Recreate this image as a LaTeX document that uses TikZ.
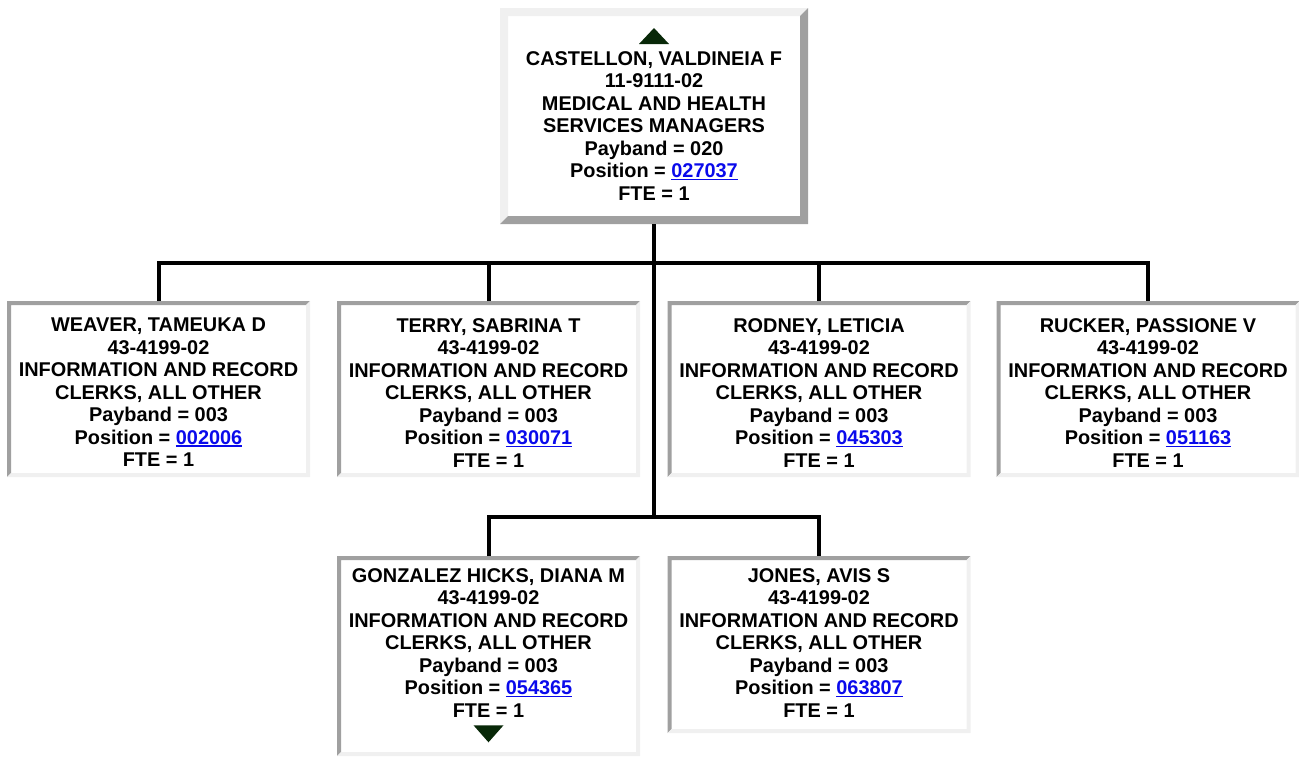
\documentclass[tikz,border=0pt]{standalone}
\usepackage{fontspec}
\setmainfont{Liberation Sans}
\usepackage{xcolor}
\usetikzlibrary{positioning}

\definecolor{framedark}{RGB}{160,160,160}
\definecolor{framelight}{RGB}{240,240,240}
\definecolor{linkblue}{RGB}{10,10,235}
\definecolor{navgreen}{RGB}{8,40,8}

% underlined position number
\newcommand\poslink[1]{{\color{linkblue}\setbox0\hbox{#1}\rlap{\rule[-2.6pt]{\wd0}{1.6pt}}\box0}}
% beveled border: node, width, top/left colour, bottom/right colour
\newcommand\bevelframe[4]{%
    \fill[#3] (#1.south west) -- (#1.north west) -- (#1.north east)
        -- ([shift={(-#2,#2)}]#1.north east) -- ([shift={(#2,#2)}]#1.north west)
        -- ([shift={(#2,-#2)}]#1.south west) -- cycle;
    \fill[#4] (#1.south west) -- (#1.south east) -- (#1.north east)
        -- ([shift={(-#2,#2)}]#1.north east) -- ([shift={(-#2,-#2)}]#1.south east)
        -- ([shift={(#2,-#2)}]#1.south west) -- cycle;}

\tikzset{
    orgbox/.style={inner sep=0pt, outer sep=0pt, minimum width=303pt, minimum height=176pt},
    persontext/.style={inner sep=0pt, align=center, font=\fontsize{19.9}{22.5}\selectfont\bfseries},
    orgline/.style={line width=4pt, line join=miter},
}

\begin{document}
\begin{tikzpicture}[x=1pt, y=-1pt]
    \useasboundingbox (0,0) rectangle (1299,761);

    % boxes
    \node[orgbox, minimum width=308pt, minimum height=216pt] (castellon) at (654,116) {};
    \node[orgbox] (weaver) at (158.5,389) {};
    \node[orgbox] (terry) at (488.5,389) {};
    \node[orgbox] (rodney) at (819,389) {};
    \node[orgbox] (rucker) at (1148,389) {};
    \node[orgbox, minimum height=200pt] (gonzalez) at (488.5,656) {};
    \node[orgbox, minimum height=177pt] (jones) at (819,644.5) {};

    \bevelframe{castellon}{8}{framelight}{framedark}
    \foreach \n in {weaver,terry,rodney,rucker,gonzalez,jones} {
        \bevelframe{\n}{4}{framedark}{framelight}
    }

    % texts
    \node[persontext, below=43pt of castellon.north] (castellon-txt)
        {CASTELLON, VALDINEIA F\\11-9111-02\\MEDICAL AND HEALTH\\SERVICES MANAGERS\\Payband = 020\\Position = \poslink{027037}\\FTE = 1};
    \node[persontext, below=17pt of weaver.north] (weaver-txt)
        {WEAVER, TAMEUKA D\\43-4199-02\\INFORMATION AND RECORD\\CLERKS, ALL OTHER\\Payband = 003\\Position = \poslink{002006}\\FTE = 1};
    \node[persontext, below=17pt of terry.north] (terry-txt)
        {TERRY, SABRINA T\\43-4199-02\\INFORMATION AND RECORD\\CLERKS, ALL OTHER\\Payband = 003\\Position = \poslink{030071}\\FTE = 1};
    \node[persontext, below=17pt of rodney.north] (rodney-txt)
        {RODNEY, LETICIA\\43-4199-02\\INFORMATION AND RECORD\\CLERKS, ALL OTHER\\Payband = 003\\Position = \poslink{045303}\\FTE = 1};
    \node[persontext, below=17pt of rucker.north] (rucker-txt)
        {RUCKER, PASSIONE V\\43-4199-02\\INFORMATION AND RECORD\\CLERKS, ALL OTHER\\Payband = 003\\Position = \poslink{051163}\\FTE = 1};
    \node[persontext, below=12pt of gonzalez.north] (gonzalez-txt)
        {GONZALEZ HICKS, DIANA M\\43-4199-02\\INFORMATION AND RECORD\\CLERKS, ALL OTHER\\Payband = 003\\Position = \poslink{054365}\\FTE = 1};
    \node[persontext, below=12pt of jones.north] (jones-txt)
        {JONES, AVIS S\\43-4199-02\\INFORMATION AND RECORD\\CLERKS, ALL OTHER\\Payband = 003\\Position = \poslink{063807}\\FTE = 1};

    % up / down markers
    \fill[navgreen] ([shift={(-15,-7)}]castellon-txt.north) -- ([shift={(15,-7)}]castellon-txt.north)
        -- ([shift={(0,-23)}]castellon-txt.north) -- cycle;
    \fill[navgreen] ([shift={(-15,8)}]gonzalez-txt.south) -- ([shift={(15,8)}]gonzalez-txt.south)
        -- ([shift={(0,25)}]gonzalez-txt.south) -- cycle;

    % connectors
    \coordinate (upperbus) at (654,263);
    \coordinate (lowerbus) at (654,517);
    \draw[orgline] (castellon.south) -- (lowerbus);
    \draw[orgline] (weaver.north) |- (upperbus) -| (rucker.north);
    \draw[orgline] (terry.north) -- (terry.north |- upperbus);
    \draw[orgline] (rodney.north) -- (rodney.north |- upperbus);
    \draw[orgline] (gonzalez.north) |- (lowerbus) -| (jones.north);
\end{tikzpicture}
\end{document}
